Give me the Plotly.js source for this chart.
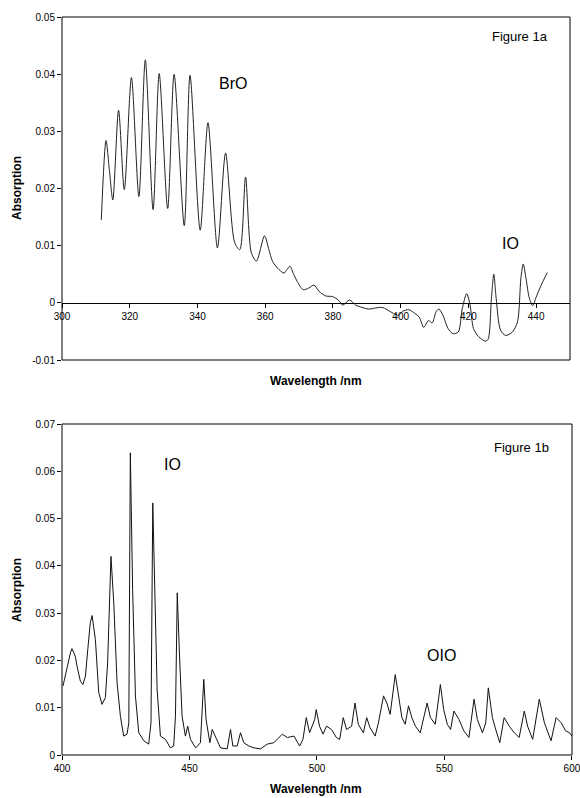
<!DOCTYPE html>
<html><head><meta charset="utf-8">
<script src="https://cdn.plot.ly/plotly-3.0.1.min.js"></script>
<style>html,body{margin:0;padding:0;background:#fff}#c{width:580px;height:798px}</style>
</head><body><div id="c"></div>
<script>
// Figure 1a: BrO / IO spectrum
const topWl = [311.6,313.0,314.0,315.0,316.7,318.4,320.5,322.7,324.6,326.9,328.7,331.2,333.1,336.1,337.8,340.8,343.1,345.9,348.3,351.0,352.5,354.2,355.9,357.4,359.8,361.0,362.2,364.1,365.6,366.4,367.3,368.4,369.5,371.2,372.9,374.4,375.9,377.9,379.8,381.6,382.9,384.9,386.7,388.6,390.6,392.6,394.5,396.0,397.4,399.4,400.5,402.4,404.3,405.5,406.8,408.2,409.3,410.5,411.3,412.5,414.0,415.5,417.0,418.2,419.5,420.5,421.5,423.0,425.0,425.8,426.8,427.5,428.2,429.5,431.0,433.0,434.5,435.5,436.2,437.0,438.0,439.0,440.0,441.5,443.3];
const topAbs = [0.0145,0.0284,0.0232,0.0180,0.0337,0.0198,0.0394,0.0186,0.0425,0.0163,0.0401,0.0165,0.0400,0.0135,0.0398,0.0127,0.0315,0.0096,0.0262,0.0105,0.0093,0.0220,0.0088,0.0073,0.0117,0.0095,0.0072,0.0058,0.0052,0.0058,0.0064,0.0050,0.0037,0.0023,0.0026,0.0031,0.0020,0.0012,0.0011,0.0005,-0.0004,0.0005,-0.0004,-0.0008,-0.0011,-0.0009,-0.0008,-0.0012,-0.0017,-0.0022,-0.0015,-0.0012,-0.0019,-0.0025,-0.0043,-0.0031,-0.0035,-0.0015,-0.0011,-0.0022,-0.0045,-0.0054,-0.0051,-0.0010,0.0016,-0.0004,-0.0045,-0.0059,-0.0067,-0.0064,0.0008,0.0050,0.0008,-0.0048,-0.0057,-0.0051,-0.0033,0.0043,0.0068,0.0043,0.0008,-0.0005,0.0010,0.0031,0.0053];
const topXTicks = [300,320,340,360,380,400,420,440];
const topYTicks = [0.05,0.04,0.03,0.02,0.01,0,-0.01];
const topYLabels = ["0.05","0.04","0.03","0.02","0.01","0","-0.01"];

// Figure 1b: IO / OIO spectrum
const botWl = [400.4,401.3,402.0,403.3,403.9,405.2,405.9,407.2,408.2,409.2,410.1,411.1,411.8,413.1,414.4,415.7,417.0,417.9,419.2,420.3,421.6,422.9,424.2,425.5,426.2,426.8,427.7,428.8,430.1,432.1,434.0,434.9,435.6,436.3,437.3,438.6,440.6,442.5,443.8,444.5,445.2,446.1,447.1,448.4,449.3,450.4,452.4,454.3,455.0,455.6,456.5,458.0,458.9,460.2,462.2,464.8,466.1,467.0,468.7,470.0,471.3,473.3,475.3,477.9,480.5,483.1,486.4,488.4,491.0,493.2,494.5,495.8,497.1,499.1,499.7,501.0,502.4,503.7,505.7,507.6,508.9,510.3,511.6,513.6,514.9,516.2,518.2,519.5,520.8,522.8,524.1,526.1,527.4,528.7,530.7,532.0,533.3,534.6,535.9,537.2,538.6,540.5,541.8,543.2,544.5,546.4,548.4,549.7,551.1,552.4,553.7,555.7,557.6,559.6,561.6,562.9,564.9,566.2,567.2,568.8,570.1,571.7,573.4,575.4,577.4,579.3,581.3,582.6,584.6,587.2,589.2,591.8,593.8,595.8,597.5,599.1,600.0];
const botAbs = [0.0146,0.0167,0.0188,0.0216,0.0225,0.0209,0.0188,0.0156,0.0149,0.0167,0.0223,0.0280,0.0295,0.0244,0.0132,0.0107,0.0121,0.0195,0.0420,0.0322,0.0153,0.0082,0.0040,0.0044,0.0068,0.0639,0.0350,0.0125,0.0047,0.0030,0.0023,0.0068,0.0533,0.0350,0.0139,0.0040,0.0033,0.0015,0.0019,0.0082,0.0343,0.0209,0.0082,0.0040,0.0061,0.0033,0.0015,0.0026,0.0110,0.0160,0.0075,0.0026,0.0054,0.0040,0.0015,0.0013,0.0054,0.0019,0.0019,0.0047,0.0026,0.0019,0.0015,0.0013,0.0023,0.0026,0.0044,0.0037,0.0040,0.0019,0.0033,0.0079,0.0047,0.0075,0.0096,0.0061,0.0044,0.0061,0.0054,0.0037,0.0033,0.0079,0.0054,0.0061,0.0110,0.0065,0.0047,0.0079,0.0058,0.0040,0.0068,0.0125,0.0110,0.0086,0.0170,0.0125,0.0079,0.0065,0.0104,0.0079,0.0061,0.0047,0.0075,0.0110,0.0079,0.0065,0.0149,0.0096,0.0065,0.0054,0.0093,0.0075,0.0051,0.0037,0.0118,0.0075,0.0047,0.0068,0.0142,0.0079,0.0054,0.0026,0.0079,0.0061,0.0047,0.0037,0.0093,0.0061,0.0033,0.0118,0.0068,0.0030,0.0079,0.0068,0.0051,0.0047,0.0040];
const botXTicks = [400,450,500,550,600];
const botYTicks = [0,0.01,0.02,0.03,0.04,0.05,0.06,0.07];
const botYLabels = ["0","0.01","0.02","0.03","0.04","0.05","0.06","0.07"];

const W = 580, H = 798;
const px = v => v / W;
const py = v => 1 - v / H;
const FONT = "Liberation Sans, Arial, sans-serif";
const tickFont = {family: FONT, size: 10, color: "#000"};

const traces = [
  {x: topWl, y: topAbs, xaxis: "x", yaxis: "y", type: "scatter", mode: "lines",
   line: {color: "#222", width: 1, shape: "spline", smoothing: 0.8}, hoverinfo: "skip"},
  {x: botWl, y: botAbs, xaxis: "x2", yaxis: "y2", type: "scatter", mode: "lines",
   line: {color: "#111", width: 1}, hoverinfo: "skip"}
];

function ann(text, x, y, size, bold, rot) {
  return {text: bold ? "<b>" + text + "</b>" : text, xref: "paper", yref: "paper",
    x: px(x), y: py(y), xanchor: "center", yanchor: "middle", showarrow: false,
    textangle: rot || 0, font: {family: FONT, size: size, color: "#000"}};
}

const layout = {
  width: W, height: H, margin: {l: 0, r: 0, t: 0, b: 0},
  paper_bgcolor: "#fff", plot_bgcolor: "#fff", showlegend: false,
  xaxis: {domain: [px(62), px(570)], range: [300, 450], anchor: "free", position: py(303),
    tickvals: topXTicks, ticktext: topXTicks.map(String), ticks: "outside", ticklen: 4,
    tickcolor: "#000", showgrid: false, zeroline: false, showline: true, linecolor: "#000",
    linewidth: 1, tickfont: tickFont, fixedrange: true},
  yaxis: {domain: [py(360), py(17)], range: [-0.01, 0.05], anchor: "x",
    tickvals: topYTicks, ticktext: topYLabels, ticks: "outside", ticklen: 4, tickcolor: "#000",
    showgrid: false, zeroline: false, showline: false, tickfont: tickFont, fixedrange: true},
  xaxis2: {domain: [px(62), px(572)], range: [400, 600.02], anchor: "y2",
    tickvals: botXTicks, ticktext: botXTicks.map(String), ticks: "outside", ticklen: 4,
    tickcolor: "#000", showgrid: false, zeroline: false, showline: false,
    ticklabeloverflow: "allow", tickfont: tickFont, fixedrange: true},
  yaxis2: {domain: [py(755), py(424)], range: [0, 0.07], anchor: "x2",
    tickvals: botYTicks, ticktext: botYLabels, ticks: "outside", ticklen: 4, tickcolor: "#000",
    showgrid: false, zeroline: false, showline: false, tickfont: tickFont, fixedrange: true},
  shapes: [
    {type: "rect", xref: "x domain", yref: "y domain", x0: 0, x1: 1, y0: 0, y1: 1,
     line: {color: "#000", width: 1}, fillcolor: "rgba(0,0,0,0)"},
    {type: "rect", xref: "x2 domain", yref: "y2 domain", x0: 0, x1: 1, y0: 0, y1: 1,
     line: {color: "#000", width: 1}, fillcolor: "rgba(0,0,0,0)"}
  ],
  annotations: [
    ann("Absorption", 17, 188, 12, true, -90),
    ann("Wavelength /nm", 316, 381, 12, true),
    ann("Figure 1a", 520, 36, 13, false),
    ann("BrO", 233, 83, 16, false),
    ann("IO", 510, 243, 16, false),
    ann("Absorption", 17, 590, 12, true, -90),
    ann("Wavelength /nm", 316, 789, 12, true),
    ann("Figure 1b", 521, 447, 13, false),
    ann("IO", 172, 464, 16, false),
    ann("OIO", 441, 655, 16, false)
  ]
};

Plotly.newPlot("c", traces, layout, {displayModeBar: false, staticPlot: true});
</script></body></html>
